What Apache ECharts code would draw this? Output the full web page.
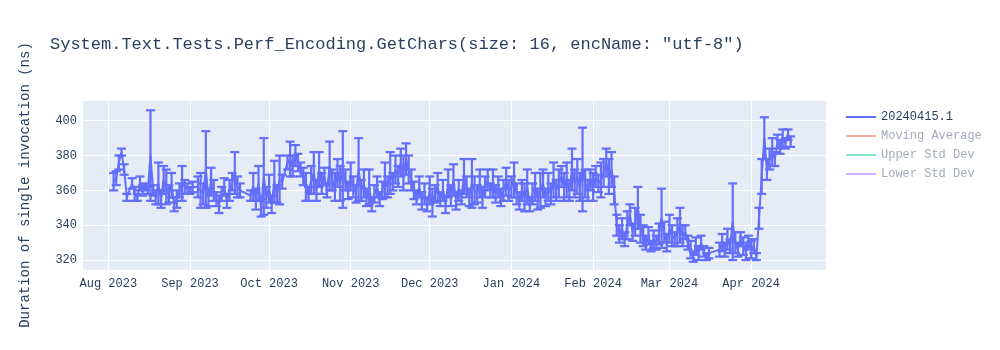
<!DOCTYPE html>
<html>
<head>
<meta charset="utf-8">
<script src="https://cdn.jsdelivr.net/npm/echarts@6/dist/echarts.min.js"></script>
<style>html,body{margin:0;padding:0;background:#fff}#c{width:1000px;height:350px}</style>
</head>
<body>
<div id="c"></div>
<script>
const titleText = 'System.Text.Tests.Perf_Encoding.GetChars(size: 16, encName: "utf-8")';
const yName = 'Duration of single invocation (ns)';
const seriesNames = ['20240415.1', 'Moving Average', 'Upper Std Dev', 'Lower Std Dev'];
const monthNames = ['Jan','Feb','Mar','Apr','May','Jun','Jul','Aug','Sep','Oct','Nov','Dec'];

const dates = [
'2023-08-03','2023-08-04','2023-08-05','2023-08-06','2023-08-07','2023-08-08','2023-08-10','2023-08-11','2023-08-12','2023-08-13','2023-08-14','2023-08-15','2023-08-16','2023-08-17','2023-08-18','2023-08-19','2023-08-20','2023-08-21','2023-08-22','2023-08-23','2023-08-24','2023-08-25','2023-08-26','2023-08-27','2023-08-28','2023-08-29','2023-08-30','2023-08-31',
'2023-09-01','2023-09-02','2023-09-04','2023-09-05','2023-09-06','2023-09-07','2023-09-08','2023-09-09','2023-09-10','2023-09-11','2023-09-12','2023-09-13','2023-09-14','2023-09-15','2023-09-16','2023-09-17','2023-09-18','2023-09-19','2023-09-20','2023-09-24','2023-09-25','2023-09-26','2023-09-27','2023-09-28','2023-09-29','2023-09-30',
'2023-10-01','2023-10-02','2023-10-03','2023-10-04','2023-10-05','2023-10-06','2023-10-08','2023-10-09','2023-10-10','2023-10-11','2023-10-12','2023-10-13','2023-10-14','2023-10-15','2023-10-16','2023-10-17','2023-10-18','2023-10-19','2023-10-20','2023-10-21','2023-10-22','2023-10-23','2023-10-24','2023-10-25','2023-10-26','2023-10-27','2023-10-28','2023-10-29','2023-10-30','2023-10-31',
'2023-11-01','2023-11-02','2023-11-03','2023-11-04','2023-11-05','2023-11-06','2023-11-07','2023-11-08','2023-11-09','2023-11-10','2023-11-11','2023-11-12','2023-11-13','2023-11-14','2023-11-15','2023-11-16','2023-11-17','2023-11-18','2023-11-19','2023-11-20','2023-11-21','2023-11-22','2023-11-23','2023-11-24','2023-11-25','2023-11-26','2023-11-27','2023-11-28','2023-11-29','2023-11-30',
'2023-12-01','2023-12-02','2023-12-03','2023-12-04','2023-12-05','2023-12-06','2023-12-07','2023-12-08','2023-12-09','2023-12-10','2023-12-11','2023-12-12','2023-12-13','2023-12-14','2023-12-15','2023-12-16','2023-12-17','2023-12-18','2023-12-19','2023-12-20','2023-12-21','2023-12-22','2023-12-23','2023-12-24','2023-12-25','2023-12-26','2023-12-27','2023-12-28','2023-12-29','2023-12-30','2023-12-31',
'2024-01-01','2024-01-02','2024-01-03','2024-01-04','2024-01-05','2024-01-06','2024-01-07','2024-01-08','2024-01-09','2024-01-10','2024-01-11','2024-01-12','2024-01-13','2024-01-14','2024-01-15','2024-01-16','2024-01-17','2024-01-18','2024-01-19','2024-01-20','2024-01-21','2024-01-22','2024-01-23','2024-01-24','2024-01-25','2024-01-26','2024-01-27','2024-01-28','2024-01-29','2024-01-30','2024-01-31',
'2024-02-01','2024-02-02','2024-02-03','2024-02-04','2024-02-05','2024-02-06','2024-02-07','2024-02-08','2024-02-09','2024-02-10','2024-02-11','2024-02-12','2024-02-13','2024-02-14','2024-02-15','2024-02-16','2024-02-17','2024-02-18','2024-02-19','2024-02-20','2024-02-21','2024-02-22','2024-02-23','2024-02-24','2024-02-25','2024-02-26','2024-02-27','2024-02-28','2024-02-29',
'2024-03-01','2024-03-02','2024-03-03','2024-03-04','2024-03-05','2024-03-06','2024-03-07','2024-03-08','2024-03-09','2024-03-10','2024-03-11','2024-03-12','2024-03-13','2024-03-14','2024-03-15','2024-03-16','2024-03-20','2024-03-21','2024-03-22','2024-03-23','2024-03-24','2024-03-25','2024-03-26','2024-03-27','2024-03-28','2024-03-29','2024-03-30','2024-03-31',
'2024-04-01','2024-04-02','2024-04-03','2024-04-04','2024-04-05','2024-04-06','2024-04-07','2024-04-08','2024-04-09','2024-04-10','2024-04-11','2024-04-12','2024-04-13','2024-04-14','2024-04-15','2024-04-16'
];

const values = [
365,367,376,382,372,356,364,358,356,364,360,362,360,380,360,356,364,355,366,362,358,363,352,355,360,364,362,361,
360,362,362,360,358,372,356,365,360,355,352,358,362,354,360,365,370,362,360,357,362,355,364,350,368,356,
361,352,365,358,366,365,376,378,374,380,376,372,368,362,358,366,370,360,372,364,368,360,374,366,362,370,364,372,366,360,
368,362,358,372,360,364,356,362,352,358,362,355,360,366,362,370,365,372,368,376,370,378,372,366,360,356,362,354,358,352,
360,353,358,362,355,360,352,364,357,366,354,360,356,368,362,356,364,360,358,364,356,362,366,360,364,358,362,356,360,365,360,
362,366,358,354,360,356,362,352,358,362,355,360,364,356,362,358,366,360,364,368,362,366,360,372,364,368,362,372,364,360,366,
362,368,364,366,370,376,368,372,360,340,335,338,332,340,346,336,342,350,338,334,330,334,328,332,330,335,344,336,330,
338,334,332,336,340,334,336,330,326,322,328,324,330,325,322,324,326,330,326,332,328,342,330,326,332,328,325,330,
326,328,322,344,368,390,372,378,382,378,388,385,390,387,392,388
];

const errors = [
5,4,4,2,3,2,3,4,2,4,3,2,2,26,3,4,12,5,8,10,5,7,4,5,4,10,4,3,
2,3,6,10,6,22,5,8,6,4,5,4,5,4,6,5,12,6,4,3,8,6,10,5,22,6,
8,5,12,5,14,4,4,10,6,6,5,4,5,8,4,8,12,6,10,6,5,4,14,6,8,8,10,22,6,5,
8,6,5,18,6,8,5,10,4,5,6,4,5,10,6,12,5,8,6,8,10,9,8,6,5,4,6,5,6,4,
8,8,5,8,4,6,5,8,6,9,5,6,4,10,6,5,14,8,5,8,6,6,6,4,8,5,6,5,6,8,6,
6,10,6,5,6,8,10,4,6,8,6,10,8,5,8,6,10,6,8,6,8,10,6,12,8,10,8,24,8,6,6,
8,6,5,10,8,8,10,10,8,6,5,6,4,8,6,5,8,12,8,6,4,5,3,5,4,6,17,6,5,
8,6,4,8,10,6,4,4,5,3,5,4,4,3,2,3,4,5,4,6,4,22,6,4,4,5,5,4,
5,4,2,6,10,12,6,6,8,4,4,4,5,3,3,3
];

const mono = "'Liberation Mono', 'Courier New', 'DejaVu Sans Mono', monospace";
const axisColor = '#2a3f5f';
const fadedText = '#a3abb8';

const lineData = dates.map((d, i) => [d, values[i]]);
const errData = dates.map((d, i) => [d, values[i] - errors[i], values[i] + errors[i]]);

const chart = echarts.init(document.getElementById('c'), null, {renderer: 'canvas'});
chart.setOption({
  animation: false,
  backgroundColor: '#ffffff',
  title: {
    text: titleText,
    left: 50,
    top: 36,
    padding: 0,
    textStyle: {fontFamily: mono, fontSize: 17, fontWeight: 'normal', color: axisColor}
  },
  legend: {
    orient: 'vertical',
    left: 846,
    top: 111,
    padding: 0,
    itemWidth: 30,
    itemHeight: 2,
    itemGap: 7,
    icon: 'rect',
    textStyle: {fontFamily: mono, fontSize: 12, color: axisColor},
    data: [
      {name: seriesNames[0]},
      {name: seriesNames[1], textStyle: {color: fadedText}},
      {name: seriesNames[2], textStyle: {color: fadedText}},
      {name: seriesNames[3], textStyle: {color: fadedText}}
    ]
  },
  grid: {left: 82, right: 174, top: 100, bottom: 80, show: true, backgroundColor: '#e5ecf6', borderWidth: 0},
  xAxis: {
    type: 'time',
    min: '2023-07-22',
    max: '2024-04-29 10:00',
    splitNumber: 9,
    axisLine: {show: false},
    axisTick: {show: false},
    splitLine: {show: true, lineStyle: {color: '#ffffff', width: 1}},
    axisLabel: {
      fontFamily: mono, fontSize: 12, color: axisColor, margin: 8,
      formatter: function (v) { const d = new Date(v); return monthNames[d.getMonth()] + ' ' + d.getFullYear(); }
    }
  },
  yAxis: {
    type: 'value',
    min: 314.3,
    max: 411.9,
    splitNumber: 5,
    name: yName,
    nameLocation: 'middle',
    nameRotate: 90,
    nameGap: 50,
    nameTextStyle: {fontFamily: mono, fontSize: 14, color: axisColor},
    axisLine: {show: false},
    axisTick: {show: false},
    axisLabel: {fontFamily: mono, fontSize: 12, color: axisColor, margin: 5, showMinLabel: false, showMaxLabel: false},
    splitLine: {show: true, lineStyle: {color: '#ffffff', width: 1}}
  },
  series: [
    {
      name: seriesNames[0],
      type: 'line',
      data: lineData,
      showSymbol: false,
      color: '#636efa',
      lineStyle: {width: 2, color: '#636efa'},
      z: 3
    },
    {
      name: seriesNames[0],
      type: 'custom',
      data: errData,
      encode: {x: 0, y: [1, 2]},
      z: 2,
      renderItem: function (params, api) {
        const x = api.value(0);
        const lo = api.coord([x, api.value(1)]);
        const hi = api.coord([x, api.value(2)]);
        const hw = 4.5;
        const style = {stroke: '#636efa', lineWidth: 2.2};
        return {
          type: 'group',
          children: [
            {type: 'line', shape: {x1: lo[0], y1: lo[1], x2: hi[0], y2: hi[1]}, style: style},
            {type: 'line', shape: {x1: lo[0] - hw, y1: lo[1], x2: lo[0] + hw, y2: lo[1]}, style: style},
            {type: 'line', shape: {x1: hi[0] - hw, y1: hi[1], x2: hi[0] + hw, y2: hi[1]}, style: style}
          ]
        };
      }
    },
    {name: seriesNames[1], type: 'line', data: [], color: '#f7aa9d', lineStyle: {color: '#f7aa9d'}},
    {name: seriesNames[2], type: 'line', data: [], color: '#80e6cb', lineStyle: {color: '#80e6cb'}},
    {name: seriesNames[3], type: 'line', data: [], color: '#d5b1fd', lineStyle: {color: '#d5b1fd'}}
  ]
});
</script>
</body>
</html>
